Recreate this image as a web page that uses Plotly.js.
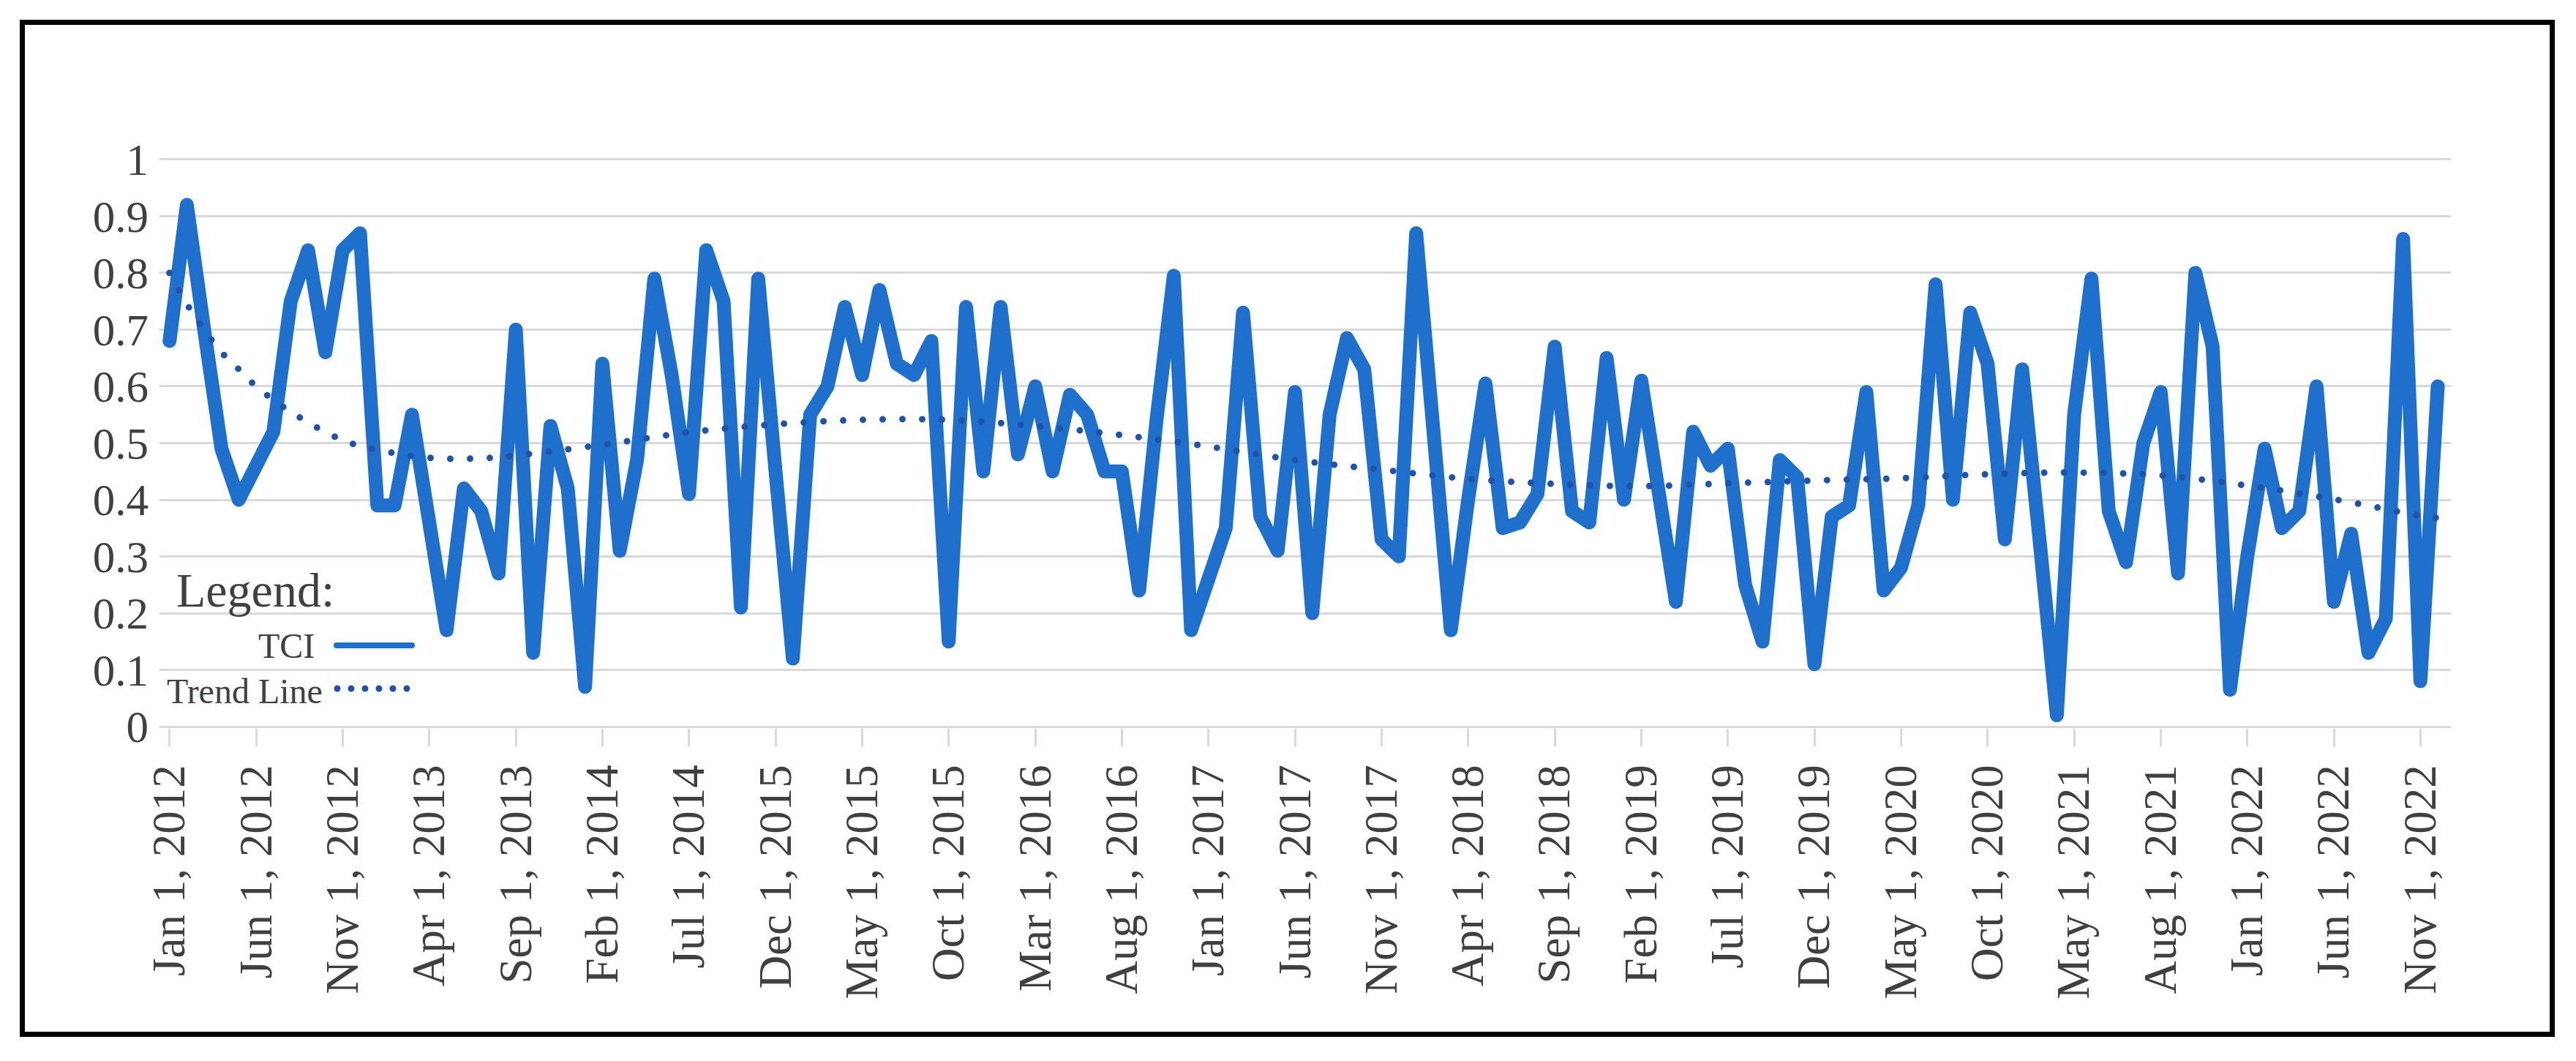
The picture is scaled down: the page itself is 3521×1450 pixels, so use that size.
<!DOCTYPE html>
<html>
<head>
<meta charset="utf-8">
<script src="https://cdn.plot.ly/plotly-3.0.1.min.js"></script>
<style>
html,body{margin:0;padding:0;background:#fff;}
#wrap{position:relative;width:3521px;height:1450px;}
#chart{position:absolute;left:0;top:0;width:3521px;height:1450px;}
#frame{position:absolute;left:27px;top:27px;width:3465px;height:1390px;border:7px solid #000;box-sizing:border-box;pointer-events:none;z-index:10;}
.scatterlayer .js-line{stroke-linejoin:round;stroke-linecap:round;}
.shapelayer path{stroke-linecap:round;}
</style>
</head>
<body>
<div id="wrap"><div id="chart"></div><div id="frame"></div></div>
<script>
// ---- categories: months Jan 2012 .. Dec 2022 ----
const months = [
"2012-01","2012-02","2012-03","2012-04","2012-05","2012-06","2012-07","2012-08","2012-09","2012-10","2012-11","2012-12",
"2013-01","2013-02","2013-03","2013-04","2013-05","2013-06","2013-07","2013-08","2013-09","2013-10","2013-11","2013-12",
"2014-01","2014-02","2014-03","2014-04","2014-05","2014-06","2014-07","2014-08","2014-09","2014-10","2014-11","2014-12",
"2015-01","2015-02","2015-03","2015-04","2015-05","2015-06","2015-07","2015-08","2015-09","2015-10","2015-11","2015-12",
"2016-01","2016-02","2016-03","2016-04","2016-05","2016-06","2016-07","2016-08","2016-09","2016-10","2016-11","2016-12",
"2017-01","2017-02","2017-03","2017-04","2017-05","2017-06","2017-07","2017-08","2017-09","2017-10","2017-11","2017-12",
"2018-01","2018-02","2018-03","2018-04","2018-05","2018-06","2018-07","2018-08","2018-09","2018-10","2018-11","2018-12",
"2019-01","2019-02","2019-03","2019-04","2019-05","2019-06","2019-07","2019-08","2019-09","2019-10","2019-11","2019-12",
"2020-01","2020-02","2020-03","2020-04","2020-05","2020-06","2020-07","2020-08","2020-09","2020-10","2020-11","2020-12",
"2021-01","2021-02","2021-03","2021-04","2021-05","2021-06","2021-07","2021-08","2021-09","2021-10","2021-11","2021-12",
"2022-01","2022-02","2022-03","2022-04","2022-05","2022-06","2022-07","2022-08","2022-09","2022-10","2022-11","2022-12"
];

// ---- TCI series ----
const tci = [
0.68,0.92,0.70,0.49,0.40,0.46,0.52,0.75,0.84,0.66,0.84,0.87,
0.39,0.39,0.55,0.36,0.17,0.42,0.38,0.27,0.70,0.13,0.53,0.42,
0.07,0.64,0.31,0.47,0.79,0.62,0.41,0.84,0.75,0.21,0.79,0.45,
0.12,0.55,0.60,0.74,0.62,0.77,0.64,0.62,0.68,0.15,0.74,0.45,
0.74,0.48,0.60,0.45,0.585,0.55,0.45,0.45,0.24,0.54,0.795,0.17,
0.26,0.35,0.73,0.37,0.31,0.59,0.20,0.55,0.685,0.63,0.33,0.30,
0.87,0.52,0.17,0.40,0.605,0.35,0.36,0.41,0.67,0.38,0.36,0.65,
0.40,0.61,0.42,0.22,0.52,0.46,0.49,0.25,0.15,0.47,0.44,0.11,
0.37,0.39,0.59,0.24,0.28,0.39,0.78,0.40,0.73,0.64,0.33,0.63,
0.33,0.02,0.55,0.79,0.38,0.29,0.50,0.59,0.27,0.80,0.67,0.065,
0.30,0.49,0.35,0.38,0.60,0.22,0.34,0.13,0.19,0.86,0.08,0.60
];

// ---- Trend line (read at selected months) ----
const trendMonths = ["2012-01","2012-02","2012-03","2012-04","2012-05","2012-06","2012-08","2012-11","2013-01","2013-04","2013-07","2013-09",
"2014-02","2014-07","2014-12","2015-05","2015-10","2016-03","2016-08","2017-01","2017-06","2017-11","2018-04","2018-09",
"2019-02","2019-07","2019-12","2020-05","2020-10","2021-03","2021-08","2022-01","2022-06","2022-11","2022-12"];
const trendValues = [0.80,0.745,0.70,0.66,0.63,0.60,0.555,0.505,0.488,0.474,0.473,0.478,
0.497,0.519,0.533,0.541,0.541,0.53,0.514,0.494,0.470,0.453,0.437,0.428,
0.424,0.429,0.434,0.438,0.445,0.448,0.443,0.425,0.401,0.372,0.368];

// ---- x tick labels (as printed in the original) ----
const tickLabels = ["Jan 1, 2012","Jun 1, 2012","Nov 1, 2012","Apr 1, 2013","Sep 1, 2013","Feb 1, 2014","Jul 1, 2014",
"Dec 1, 2015","May 1, 2015","Oct 1, 2015","Mar 1, 2016","Aug 1, 2016","Jan 1, 2017","Jun 1, 2017","Nov 1, 2017",
"Apr 1, 2018","Sep 1, 2018","Feb 1, 2019","Jul 1, 2019","Dec 1, 2019","May 1, 2020","Oct 1, 2020","May 1, 2021",
"Aug 1, 2021","Jan 1, 2022","Jun 1, 2022","Nov 1, 2022"];
const tickMonths = months.filter((m, i) => i % 5 === 0);

const seriesNames = ["TCI", "Trend Line"];

// ---- styling / geometry ----
const W = 3521, H = 1450, ML = 218, MR = 171, MT = 216, MB = 455;
const PW = W - ML - MR, PH = H - MT - MB;
const px = x => (x - ML) / PW;
const py = y => (H - MB - y) / PH;
const FONT = "Liberation Serif, Times New Roman, serif";
const TXT = "#404040";
const TCI_COLOR = "#1f6fcc";
const TREND_COLOR = "#2152aa";
const GRID = "#d9d9d9";

const traces = [
  {x: months, y: tci, type: "scatter", mode: "lines", name: seriesNames[0],
   line: {color: TCI_COLOR, width: 19}, showlegend: false, hoverinfo: "x+y"},
  {x: trendMonths, y: trendValues, type: "scatter", mode: "lines", name: seriesNames[1],
   line: {color: TREND_COLOR, width: 9, dash: "0px,27px", shape: "spline", smoothing: 1}, showlegend: false, hoverinfo: "x+y"}
];

const layout = {
  width: W, height: H,
  margin: {l: ML, r: MR, t: MT, b: MB, pad: 0},
  paper_bgcolor: "#ffffff", plot_bgcolor: "#ffffff",
  showlegend: false,
  font: {family: FONT, color: TXT},
  xaxis: {
    type: "category", categoryorder: "array", categoryarray: months,
    range: [-0.58, 131.76], autorange: false,
    tickmode: "array", tickvals: tickMonths, ticktext: tickLabels,
    tickangle: -90, ticks: "outside", ticklen: 24, tickwidth: 3, tickcolor: GRID,
    showgrid: false, zeroline: false, showline: false,
    tickfont: {family: FONT, size: 63, color: TXT},
    automargin: false, fixedrange: true
  },
  yaxis: {
    range: [-0.0025, 1.0025], autorange: false,
    tickmode: "linear", tick0: 0, dtick: 0.1,
    showgrid: true, gridcolor: GRID, gridwidth: 3,
    zeroline: true, zerolinecolor: GRID, zerolinewidth: 3,
    showline: false, ticks: "", ticklabelstandoff: 14,
    tickfont: {family: FONT, size: 61, color: TXT},
    automargin: false, fixedrange: true
  },
  annotations: [
    {text: "Legend:", xref: "paper", yref: "paper", x: px(239), y: py(806), xanchor: "left", yanchor: "middle",
     showarrow: false, font: {family: FONT, size: 66, color: TXT}},
    {text: seriesNames[0], xref: "paper", yref: "paper", x: px(432), y: py(882), xanchor: "right", yanchor: "middle",
     showarrow: false, font: {family: FONT, size: 48, color: TXT}},
    {text: seriesNames[1], xref: "paper", yref: "paper", x: px(443), y: py(944), xanchor: "right", yanchor: "middle",
     showarrow: false, font: {family: FONT, size: 48, color: TXT}}
  ],
  shapes: [
    {type: "line", xref: "paper", yref: "paper", x0: px(460), x1: px(563), y0: py(882), y1: py(882),
     line: {color: TCI_COLOR, width: 8}},
    {type: "line", xref: "paper", yref: "paper", x0: px(461), x1: px(568), y0: py(941), y1: py(941),
     line: {color: TREND_COLOR, width: 9, dash: "0px,19px"}}
  ]
};

Plotly.newPlot("chart", traces, layout, {displayModeBar: false, staticPlot: true});
</script>
</body>
</html>
